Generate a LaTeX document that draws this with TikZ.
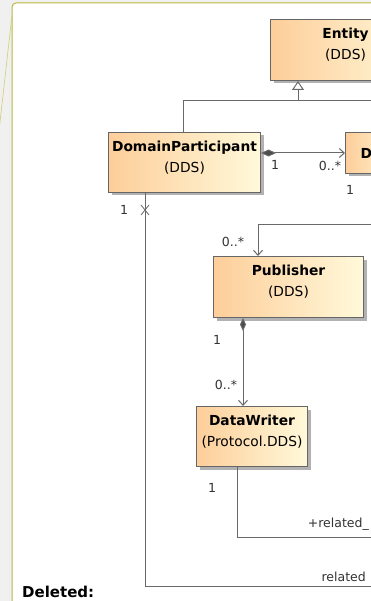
\documentclass[tikz,border=0pt]{standalone}
\usepackage{fontspec}
\setmainfont{DejaVu Sans}
\usetikzlibrary{arrows.meta,shadows,positioning}

\definecolor{canvasgray}{RGB}{240,240,240}
\definecolor{noteline}{RGB}{188,184,64}
\definecolor{boxleft}{RGB}{253,206,154}
\definecolor{boxright}{RGB}{255,249,218}
\definecolor{edgegray}{RGB}{105,105,105}

% class name over package, lifted a little
\newcommand\classtext[2]{\begin{tabular}{@{}c@{}}\textbf{#1}\\#2\\[10pt]\end{tabular}}

\tikzset{
  umlclass/.style={draw=black!60, line width=1pt, left color=boxleft, right color=boxright,
    align=center, inner sep=0pt, font=\fontsize{13.8}{21}\selectfont,
    drop shadow={shadow xshift=3pt, shadow yshift=-3pt, fill=black!30, opacity=1}},
  assoc/.style={draw=edgegray, line width=1pt},
  mult/.style={font=\fontsize{12.5}{14}\selectfont, text=black!80, inner sep=0pt},
  openhead/.style={-{Straight Barb[length=5pt,width=9pt]}},
}

\begin{document}
\begin{tikzpicture}[x=1pt,y=-1pt]
  \useasboundingbox (0,0) rectangle (371,601);
  \fill[canvasgray] (0,0) rectangle (371,601);
  \clip (0,0) rectangle (371,601);

  % note frame
  \filldraw[fill=white, draw=noteline, line width=1pt, rounded corners=4pt]
    (12,630) -- (12,3) -- (400,3) -- (400,630) -- cycle;
  \draw[noteline!70, line width=0.6pt] (12,15) -- (-2,140);

  % classes
  \node[umlclass, minimum width=150, minimum height=61, anchor=north west] (entity) at (270,19) {\classtext{Entity}{(DDS)}};
  \node[umlclass, minimum width=152, minimum height=60, anchor=north west] (participant) at (108,132) {\classtext{DomainParticipant}{(DDS)}};
  \node[umlclass, minimum width=60, minimum height=41, text width=30, align=left, anchor=north west] (topic) at (345,132) {\textbf{D}};
  \node[umlclass, minimum width=150, minimum height=61, anchor=north west] (publisher) at (213,256) {\classtext{Publisher}{(DDS)}};
  \node[umlclass, minimum width=111, minimum height=60, anchor=north west] (datawriter) at (196,406) {\classtext{DataWriter}{(Protocol.DDS)}};

  % generalization
  \coordinate (genbus) at (298,101);
  \coordinate (genend) at (400,101);
  \draw[assoc] ([xshift=75pt]participant.north west) |- (genend);
  \draw[assoc, -{Triangle[open, length=9pt, width=12pt, fill=white]}] (genbus) -- (genbus |- entity.south);

  % participant -> topic
  \draw[assoc, {Diamond[length=15pt, width=7pt, fill=black!70]}-{Straight Barb[length=5pt,width=9pt]}]
    (topic.west -| participant.east) -- (topic.west);
  \node[mult] (m1) at (275,165) {1};
  \node[mult] (m2) at (330,166) {0..*};
  \node[mult] (m3) at (350,190) {1};

  % participant -> related
  \coordinate (partfoot) at ([xshift=37pt]participant.south west);
  \coordinate (navx) at ([yshift=-17pt]partfoot);
  \coordinate (relatedend) at (400,586);
  \draw[assoc] (partfoot) |- (relatedend);
  \draw[assoc, line width=0.8pt] ([shift={(-4,-5)}]navx) -- ([shift={(4,5)}]navx)
    ([shift={(-4,5)}]navx) -- ([shift={(4,-5)}]navx);
  \node[mult] (m4) at (124,210) {1};
  \node[mult, anchor=east] (rel) at (366,577) {related};

  % feed -> publisher
  \coordinate (pubfeed) at (400,225);
  \draw[assoc, openhead] (pubfeed) -| ([xshift=45pt]publisher.north west);
  \node[mult] (m5) at (233,242) {0..*};

  % publisher -> datawriter
  \draw[assoc, {Diamond[length=13pt, width=6pt, fill=black!70]}-{Straight Barb[length=5pt,width=9pt]}]
    ([xshift=30pt]publisher.south west) -- ([xshift=47pt]datawriter.north west);
  \node[mult] (m6) at (217,340) {1};
  \node[mult] (m7) at (226,385) {0..*};

  % datawriter -> related
  \coordinate (writerend) at (400,537);
  \draw[assoc] ([xshift=41pt]datawriter.south west) |- (writerend);
  \node[mult] (m8) at (212,488) {1};
  \node[mult, anchor=east] (plusrel) at (369,524) {+related\_};

  \node[anchor=base west, inner sep=0pt, font=\fontsize{15}{18}\selectfont\bfseries] (deleted) at (22,597) {Deleted:};
\end{tikzpicture}
\end{document}
